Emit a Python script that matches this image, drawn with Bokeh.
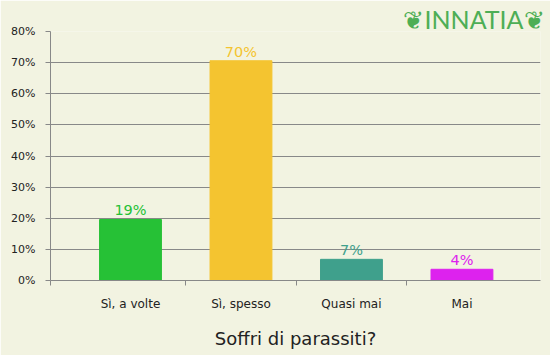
from bokeh.plotting import figure
from bokeh.models import ColumnDataSource, FixedTicker, PrintfTickFormatter, Range1d, Title
from bokeh.core.properties import value
from bokeh.embed import file_html
from bokeh.resources import INLINE

categories = ["Sì, a volte", "Sì, spesso", "Quasi mai", "Mai"]
values = [19.6, 70.6, 6.8, 3.6]
labels = ["19%", "70%", "7%", "4%"]
colors = ["#26C136", "#F4C430", "#3FA08C", "#DD22EE"]
y_ticks = [0, 10, 20, 30, 40, 50, 60, 70, 80]

positions = [i + 0.5 for i in range(len(categories))]
bg = "#F2F3E1"

src = ColumnDataSource(dict(x=positions, top=values, color=colors, label=labels))

p = figure(width=550, height=355, output_backend="svg", toolbar_location=None,
           x_range=Range1d(-0.224, 4.211), y_range=Range1d(0, 80),
           min_border_left=50, min_border_right=10, min_border_top=31, min_border_bottom=75)
p.background_fill_color = bg
p.border_fill_color = bg
p.outline_line_color = None

p.vbar(x="x", top="top", width=0.56, color="color", source=src)
p.text(x="x", y="top", text="label", text_color="color", source=src,
       text_align="center", text_baseline="bottom", y_offset=-1,
       text_font=value("DejaVu Sans"), text_font_size="14.5px")

# axes
p.xgrid.visible = False
p.ygrid.grid_line_color = "#888888"
p.ygrid.ticker = FixedTicker(ticks=y_ticks)

yax = p.yaxis[0]
yax.ticker = FixedTicker(ticks=y_ticks)
yax.formatter = PrintfTickFormatter(format="%d%%")
yax.axis_line_color = "#888888"
yax.major_tick_line_color = "#888888"
yax.major_tick_out = 5
yax.major_tick_in = 0
yax.minor_tick_line_color = None
yax.major_label_standoff = 10
yax.major_label_text_font = "DejaVu Sans"
yax.major_label_text_font_size = "11px"
yax.major_label_text_color = "#222222"

xax = p.xaxis[0]
xax.ticker = FixedTicker(ticks=positions, minor_ticks=[-0.224, 1, 2, 3])
xax.major_label_overrides = {pos: c for pos, c in zip(positions, categories)}
xax.axis_line_color = "#888888"
xax.major_tick_line_color = None
xax.major_tick_out = 0
xax.minor_tick_line_color = "#888888"
xax.minor_tick_out = 5
xax.minor_tick_in = 0
xax.major_label_standoff = 11
xax.major_label_text_font = "DejaVu Sans"
xax.major_label_text_font_size = "12px"
xax.major_label_text_color = "#222222"
xax.axis_label = "Soffri di parassiti?"
xax.axis_label_text_font = "DejaVu Sans"
xax.axis_label_text_font_size = "18px"
xax.axis_label_text_font_style = "normal"
xax.axis_label_text_color = "#222222"
xax.axis_label_standoff = 14

# logo
logo = Title(text="❦INNATIA❦", align="right", text_font="Lato",
             text_font_size="25px", text_font_style="normal", text_color="#4DAE55",
             standoff=-4, offset=-4)
p.add_layout(logo, "above")

open("out.html", "w").write(file_html(p, INLINE))
